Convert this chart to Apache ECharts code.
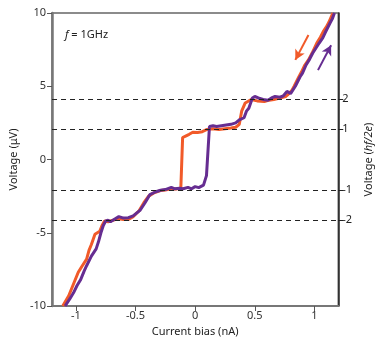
<!DOCTYPE html>
<html>
<head>
<meta charset="utf-8">
<script src="https://cdn.jsdelivr.net/npm/echarts@6/dist/echarts.min.js"></script>
<style>html,body{margin:0;padding:0;background:#fff}#c{width:382px;height:346px}</style>
</head>
<body>
<div id="c"></div>
<script>
// Sweep down (orange) : [current nA, voltage uV]
const orangeX = [-1.11,-1.06,-1.02,-0.98,-0.95,-0.91,-0.89,-0.87,-0.84,-0.80,-0.78,-0.76,-0.73,-0.71,-0.67,-0.64,-0.60,-0.56,-0.52,-0.47,-0.43,-0.39,-0.34,-0.29,-0.25,-0.20,-0.16,-0.12,-0.108,-0.105,-0.08,-0.05,-0.02,0.02,0.06,0.10,0.15,0.20,0.25,0.30,0.34,0.37,0.39,0.42,0.47,0.52,0.58,0.62,0.66,0.71,0.76,0.78,0.81,0.83,0.87,0.89,0.92,0.95,0.98,1.02,1.05,1.075,1.10,1.12,1.155];
const orangeY = [-10,-9.3,-8.5,-7.7,-7.3,-6.8,-6.2,-5.8,-5.1,-4.9,-4.5,-4.2,-4.25,-4.2,-4.1,-4.05,-4.1,-4.1,-3.9,-3.5,-2.95,-2.5,-2.25,-2.12,-2.08,-2.0,-2.02,-1.95,-1.95,1.5,1.6,1.72,1.86,1.85,1.9,2.05,2.1,2.05,2.1,2.15,2.2,2.4,3.3,3.86,4.1,4.0,3.95,4.05,4.1,4.2,4.3,4.45,4.7,5.0,5.65,5.95,6.45,6.8,7.25,7.95,8.35,8.75,9.05,9.35,10];
// Sweep up (purple)
const purpleX = [-1.09,-1.05,-1.02,-0.99,-0.96,-0.93,-0.91,-0.87,-0.83,-0.81,-0.79,-0.77,-0.75,-0.73,-0.71,-0.67,-0.64,-0.60,-0.56,-0.52,-0.46,-0.42,-0.38,-0.33,-0.29,-0.25,-0.20,-0.17,-0.13,-0.10,-0.06,-0.03,0.00,0.03,0.07,0.095,0.12,0.15,0.18,0.22,0.26,0.30,0.34,0.37,0.41,0.43,0.45,0.48,0.50,0.53,0.57,0.61,0.64,0.67,0.71,0.74,0.77,0.80,0.84,0.88,0.90,0.93,0.96,0.985,1.04,1.07,1.09,1.13,1.15,1.168];
const purpleY = [-10,-9.5,-9.1,-8.6,-8.2,-7.6,-7.25,-6.6,-6.1,-5.6,-5.0,-4.5,-4.2,-4.15,-4.25,-4.05,-3.9,-4.0,-3.97,-3.85,-3.45,-2.95,-2.4,-2.2,-2.1,-2.05,-1.9,-2.0,-1.97,-2.0,-1.9,-2.0,-1.85,-1.92,-1.75,-1.1,2.25,2.3,2.25,2.3,2.35,2.4,2.5,2.7,2.85,3.3,3.5,4.2,4.3,4.2,4.1,4.05,4.2,4.3,4.25,4.35,4.65,4.5,5.0,5.65,5.9,6.45,6.85,7.25,7.95,8.3,8.65,9.3,9.6,10];
// Shapiro step levels (units of hf/2e) and voltage of one step (uV)
const stepUnit = 2.068;
const stepLevels = [-2, -1, 1, 2];
const leftTicks = [-10, -5, 0, 5, 10];
const xTicks = [-1, -0.5, 0, 0.5, 1];
// sweep direction arrows: [x0,y0,x1,y1]
const arrowDown = [0.95, 8.5, 0.84, 6.8];
const arrowUp = [1.03, 6.1, 1.14, 7.8];

const orange = '#F15A29';
const purple = '#662D91';
const font = 'Noto Sans';

const zip = (a, b) => a.map((v, i) => [v, b[i]]);

const chart = echarts.init(document.getElementById('c'), null, {renderer: 'canvas'});
chart.setOption({
  animation: false,
  backgroundColor: '#fff',
  textStyle: {fontFamily: font},
  title: {
    text: '{i|f} = 1GHz',
    left: 60, top: 24,
    textStyle: {fontSize: 11, fontWeight: 'normal', color: '#222', fontFamily: font,
      rich: {i: {fontStyle: 'italic', fontSize: 11, color: '#222', fontFamily: font}}}
  },
  grid: {left: 48, right: 40, top: 13, bottom: 40, show: true, borderColor: '#666', borderWidth: 1.5},
  xAxis: {
    type: 'value', min: -1.2, max: 1.2,
    name: 'Current bias (nA)', nameLocation: 'middle', nameGap: 20,
    nameTextStyle: {fontSize: 11, color: '#222', fontFamily: font},
    axisLine: {show: true, onZero: false, lineStyle: {color: '#777', width: 2}},
    axisTick: {show: true, length: 5, inside: false, customValues: xTicks, lineStyle: {color: '#555', width: 1}},
    axisLabel: {customValues: xTicks, fontSize: 11, color: '#333', margin: 4, fontFamily: font,
      formatter: v => String(v)},
    splitLine: {show: false}
  },
  yAxis: [{
    type: 'value', min: -10, max: 10, interval: 5, position: 'left',
    name: 'Voltage (μV)', nameLocation: 'middle', nameGap: 28, nameRotate: 90,
    nameTextStyle: {fontSize: 11, color: '#222', fontFamily: font},
    axisLine: {show: true, onZero: false, lineStyle: {color: '#777', width: 2.5}},
    axisTick: {show: true, length: 5, lineStyle: {color: '#555', width: 1}},
    axisLabel: {fontSize: 11, color: '#333', margin: 6, fontFamily: font},
    splitLine: {show: false}
  }, {
    type: 'value', min: -10 / stepUnit, max: 10 / stepUnit, position: 'right',
    name: '{n|Voltage (}{i|hf/2e}{n|)}', nameLocation: 'middle', nameGap: 20, nameRotate: 90,
    nameTextStyle: {fontSize: 11, color: '#222', fontFamily: font,
      rich: {n: {fontSize: 11, color: '#222', fontFamily: font}, i: {fontSize: 11, fontStyle: 'italic', color: '#222', fontFamily: font}}},
    axisLine: {show: true, onZero: false, lineStyle: {color: '#222', width: 1.5}},
    axisTick: {show: true, length: 5, customValues: stepLevels, lineStyle: {color: '#222', width: 1}},
    axisLabel: {customValues: stepLevels, fontSize: 11, color: '#222', margin: 4, fontFamily: font},
    splitLine: {show: false}
  }],
  series: [{
    type: 'line', name: 'down', data: zip(orangeX, orangeY), yAxisIndex: 0,
    showSymbol: false, symbol: 'none', clip: true,
    lineStyle: {color: orange, width: 3}, z: 3,
    markLine: {
      silent: true, symbol: 'none', label: {show: false},
      lineStyle: {color: '#222', type: [5, 4], width: 1},
      data: stepLevels.map(s => ({yAxis: s * stepUnit}))
    }
  }, {
    type: 'line', name: 'up', data: zip(purpleX, purpleY), yAxisIndex: 0,
    showSymbol: false, symbol: 'none', clip: true,
    lineStyle: {color: purple, width: 3}, z: 4
  }, {
    type: 'line', name: 'arrows', data: [], yAxisIndex: 0,
    markLine: {
      silent: true, symbol: ['none', 'arrow'], symbolSize: [8, 10], label: {show: false},
      data: [
        [{coord: [arrowDown[0], arrowDown[1]], lineStyle: {color: orange, width: 2, type: 'solid'}},
         {coord: [arrowDown[2], arrowDown[3]]}],
        [{coord: [arrowUp[0], arrowUp[1]], lineStyle: {color: purple, width: 2, type: 'solid'}},
         {coord: [arrowUp[2], arrowUp[3]]}]
      ]
    }
  }]
});
</script>
</body>
</html>
